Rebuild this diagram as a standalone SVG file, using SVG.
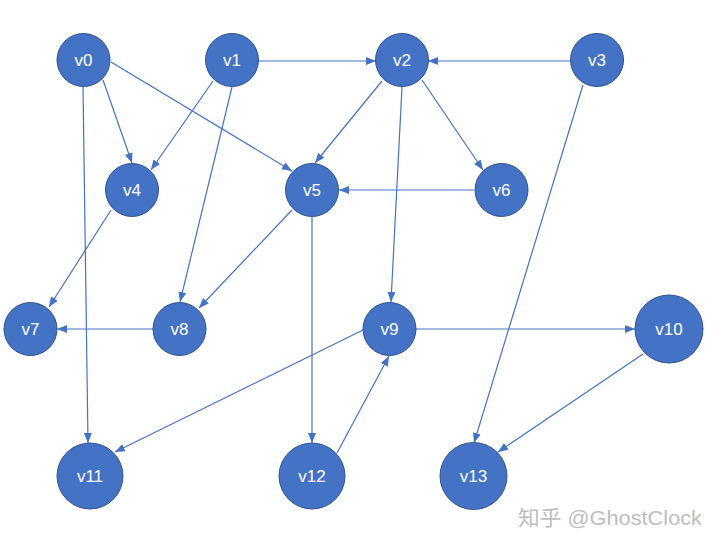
<svg xmlns="http://www.w3.org/2000/svg" width="720" height="546" viewBox="0 0 720 546">
<style>
.n{fill:#4472C4;stroke:#2F528F;stroke-width:1}
.t{fill:#fff;font-family:"Liberation Sans","Noto Sans",sans-serif;font-size:17px;text-anchor:middle}
.e{stroke:#4472C4;stroke-width:1.2;fill:none;marker-end:url(#a)}
.w{fill:#bdbdbd;font-family:"Liberation Sans","Noto Sans CJK SC",sans-serif;font-size:21px}
</style>
<defs>
<marker id="a" markerUnits="userSpaceOnUse" markerWidth="10" markerHeight="10" viewBox="0 0 10 10" refX="10" refY="5" orient="auto">
<path d="M0,1 L10,5 L0,9 Z" fill="#4472C4"/>
</marker>
</defs>
<rect width="720" height="546" fill="#fff"/>
<g id="connectors">
<line class="e" x1="103" y1="80" x2="132" y2="163"/>
<line class="e" x1="111" y1="62" x2="292" y2="171"/>
<line class="e" x1="83" y1="87" x2="88" y2="443"/>
<line class="e" x1="258" y1="61" x2="376" y2="61"/>
<line class="e" x1="213" y1="81" x2="151" y2="170"/>
<line class="e" x1="232" y1="87" x2="180" y2="302"/>
<line class="e" x1="382" y1="81" x2="315" y2="163"/>
<line class="e" x1="422" y1="80" x2="483" y2="170"/>
<line class="e" x1="402" y1="87" x2="391" y2="302"/>
<line class="e" x1="571" y1="61" x2="428" y2="61"/>
<line class="e" x1="583" y1="85" x2="474" y2="443"/>
<line class="e" x1="111" y1="210" x2="49" y2="307"/>
<line class="e" x1="292" y1="210" x2="199" y2="308"/>
<line class="e" x1="312" y1="217" x2="312" y2="443"/>
<line class="e" x1="474" y1="190" x2="339" y2="190"/>
<line class="e" x1="153" y1="329" x2="57" y2="329"/>
<line class="e" x1="416" y1="329" x2="635" y2="329"/>
<line class="e" x1="363" y1="330" x2="115" y2="452"/>
<line class="e" x1="643" y1="354" x2="498" y2="452"/>
<line class="e" x1="337" y1="453" x2="389" y2="356"/>
</g>
<g id="v0"><circle class="n" cx="83.5" cy="60" r="26.5"/><text class="t" x="83.5" y="66">v0</text></g>
<g id="v1"><circle class="n" cx="232" cy="60" r="26.5"/><text class="t" x="232" y="66">v1</text></g>
<g id="v2"><circle class="n" cx="402" cy="60" r="26.5"/><text class="t" x="402" y="66">v2</text></g>
<g id="v3"><circle class="n" cx="597" cy="60" r="26.5"/><text class="t" x="597" y="66">v3</text></g>
<g id="v4"><circle class="n" cx="132" cy="190" r="26.5"/><text class="t" x="132" y="196">v4</text></g>
<g id="v5"><circle class="n" cx="312" cy="190" r="26.5"/><text class="t" x="312" y="196">v5</text></g>
<g id="v6"><circle class="n" cx="501.5" cy="190" r="26.5"/><text class="t" x="501.5" y="196">v6</text></g>
<g id="v7"><circle class="n" cx="30.5" cy="329" r="26.5"/><text class="t" x="30.5" y="335">v7</text></g>
<g id="v8"><circle class="n" cx="179.5" cy="329" r="26.5"/><text class="t" x="179.5" y="335">v8</text></g>
<g id="v9"><circle class="n" cx="389.5" cy="329" r="26.5"/><text class="t" x="389.5" y="335">v9</text></g>
<g id="v10"><circle class="n" cx="669" cy="329" r="34"/><text class="t" x="669" y="335">v10</text></g>
<g id="v11"><circle class="n" cx="90" cy="476" r="33"/><text class="t" x="90" y="482">v11</text></g>
<g id="v12"><circle class="n" cx="312" cy="476" r="33"/><text class="t" x="312" y="482">v12</text></g>
<g id="v13"><circle class="n" cx="473.5" cy="476" r="33.5"/><text class="t" x="473.5" y="482">v13</text></g>
<text class="w" x="518" y="525" textLength="184" lengthAdjust="spacingAndGlyphs">知乎 @GhostClock</text>
</svg>
